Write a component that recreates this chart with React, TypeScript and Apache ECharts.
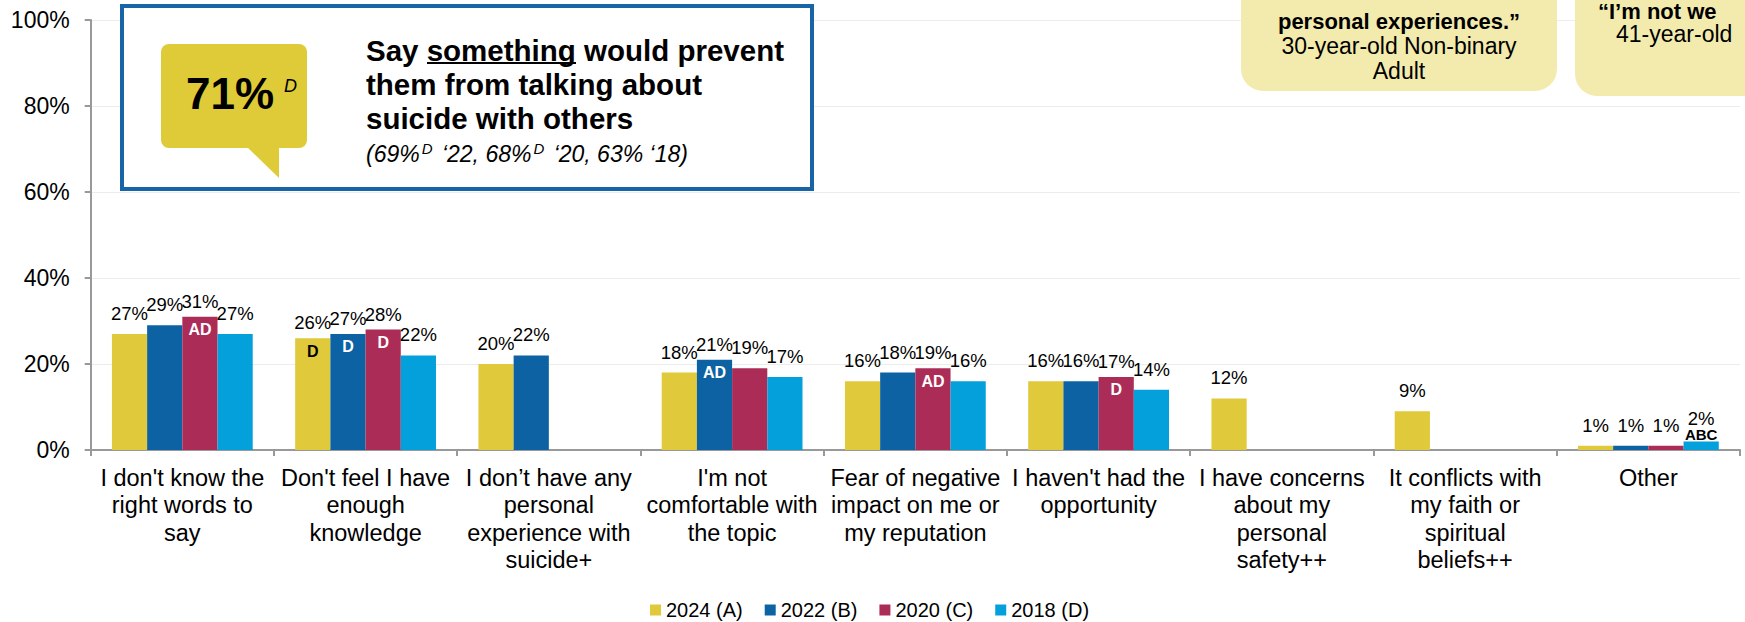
import React, { useEffect, useRef } from 'react';
import * as echarts from 'echarts';

const FONT = "'Liberation Sans', Arial, sans-serif";

const categories = [
  "I don't know the\nright words to\nsay",
  "Don't feel I have\nenough\nknowledge",
  "I don’t have any\npersonal\nexperience with\nsuicide+",
  "I'm not\ncomfortable with\nthe topic",
  "Fear of negative\nimpact on me or\nmy reputation",
  "I haven't had the\nopportunity",
  "I have concerns\nabout my\npersonal\nsafety++",
  "It conflicts with\nmy faith or\nspiritual\nbeliefs++",
  "Other",
];

const seriesNames = ['2024 (A)', '2022 (B)', '2020 (C)', '2018 (D)'];
const seriesColors = ['#e0c93a', '#0d62a3', '#ab2d57', '#04a0db'];
const sigTextKeys = ['sb', 'sw', 'sw', 'sw'];

const values2024 = [27, 26, 20, 18, 16, 16, 12, 9, 1];
const values2022 = [29, 27, 22, 21, 18, 16, null, null, 1];
const values2020 = [31, 28, null, 19, 19, 17, null, null, 1];
const values2018 = [27, 22, null, 17, 16, 14, null, null, 2];

const sig2024 = ['', 'D', '', '', '', '', '', '', ''];
const sig2022 = ['', 'D', '', 'AD', '', '', '', '', ''];
const sig2020 = ['AD', 'D', '', '', 'AD', 'D', '', '', ''];
const sig2018 = ['', '', '', '', '', '', '', '', 'ABC'];

const yTicks = [0, 20, 40, 60, 80, 100];

const quote1Lines = ['personal experiences.”', '30-year-old Non-binary', 'Adult'];
const quote2Lines = ['“I’m not we', '41-year-old'];

const allValues = [values2024, values2022, values2020, values2018];
const allSigs = [sig2024, sig2022, sig2020, sig2018];

function makeSeries(idx: number) {
  const values = allValues[idx];
  const sigs = allSigs[idx];
  const key = sigTextKeys[idx];
  return {
    name: seriesNames[idx],
    type: 'bar',
    barWidth: 35.2,
    barGap: '0%',
    itemStyle: { color: seriesColors[idx] },
    label: {
      show: true,
      position: 'top',
      distance: 11,
      fontSize: 18.5,
      fontFamily: FONT,
      color: '#000',
      formatter: (p: any) => p.value + '%',
      rich: {
        v: { fontSize: 18.5, fontFamily: FONT, color: '#000', lineHeight: 20, padding: [0, 0, 11, 0] },
        v2: { fontSize: 18.5, fontFamily: FONT, color: '#000', lineHeight: 20 },
        sw: { fontSize: 16, fontFamily: FONT, fontWeight: 'bold', color: '#fff', lineHeight: 26 },
        sb: { fontSize: 16, fontFamily: FONT, fontWeight: 'bold', color: '#000', lineHeight: 26 },
        a: { fontSize: 15, fontFamily: FONT, fontWeight: 'bold', color: '#000', lineHeight: 12 },
      },
    },
    data: values.map((v, i) => {
      if (v == null) return null;
      const s = sigs[i];
      if (!s) return v;
      if (v < 5) {
        return { value: v, label: { distance: 1, formatter: `{v2|${v}%}\n{a|${s}}` } };
      }
      return { value: v, label: { distance: -26, formatter: `{v|${v}%}\n{${key}|${s}}` } };
    }),
  };
}

export default function App() {
  const ref = useRef<HTMLDivElement>(null);
  useEffect(() => {
    document.body.style.margin = '0';
    const chart = echarts.init(ref.current!, null, { renderer: 'svg' });
    const option: any = {
      animation: false,
      backgroundColor: '#fff',
      textStyle: { fontFamily: FONT },
      grid: { left: 90.7, right: 5, top: 20, bottom: 172, containLabel: false },
      legend: {
        data: seriesNames,
        left: 650,
        top: 600,
        padding: 0,
        icon: 'rect',
        itemWidth: 11,
        itemHeight: 11,
        itemGap: 22,
        textStyle: { fontSize: 20, color: '#000', fontFamily: FONT },
      },
      xAxis: {
        type: 'category',
        data: categories,
        axisLine: { lineStyle: { color: '#999', width: 2 } },
        axisTick: { show: true, length: 6, lineStyle: { color: '#999', width: 2 } },
        axisLabel: {
          interval: 0,
          margin: 14,
          fontSize: 23.5,
          lineHeight: 27.5,
          color: '#000',
          fontFamily: FONT,
        },
      },
      yAxis: {
        type: 'value',
        min: yTicks[0],
        max: yTicks[yTicks.length - 1],
        interval: 20,
        axisLine: { show: true, lineStyle: { color: '#999', width: 2 } },
        axisTick: { show: true, length: 6, lineStyle: { color: '#999', width: 2 } },
        splitLine: { lineStyle: { color: '#ececec', width: 1 } },
        axisLabel: {
          margin: 21,
          fontSize: 23,
          color: '#000',
          fontFamily: FONT,
          formatter: '{value}%',
        },
      },
      series: [0, 1, 2, 3].map(makeSeries),
      graphic: [
        {
          type: 'rect',
          z: 100,
          shape: { x: 122, y: 6, width: 690, height: 183 },
          style: { fill: '#fff', stroke: '#1764a6', lineWidth: 4 },
        },
        {
          type: 'rect',
          z: 101,
          shape: { x: 161, y: 44, width: 146, height: 104, r: 8 },
          style: { fill: '#dfca38' },
        },
        {
          type: 'polygon',
          z: 101,
          shape: { points: [[246, 146], [279, 146], [279, 178]] },
          style: { fill: '#dfca38' },
        },
        {
          type: 'text',
          z: 102,
          x: 230,
          y: 93,
          style: {
            text: '71%',
            fontSize: 44,
            fontWeight: 'bold',
            fontFamily: FONT,
            fill: '#000',
            align: 'center',
            verticalAlign: 'middle',
          },
        },
        {
          type: 'text',
          z: 102,
          x: 284,
          y: 86,
          style: {
            text: 'D',
            fontSize: 18,
            fontStyle: 'italic',
            fontFamily: FONT,
            fill: '#000',
            align: 'left',
            verticalAlign: 'middle',
          },
        },
        {
          type: 'text',
          z: 102,
          x: 366,
          y: 33,
          style: {
            text: 'Say something would prevent\nthem from talking about\nsuicide with others',
            fontSize: 29.5,
            lineHeight: 34,
            fontWeight: 'bold',
            fontFamily: FONT,
            fill: '#000',
            align: 'left',
            verticalAlign: 'top',
          },
        },
        {
          type: 'line',
          z: 102,
          shape: { x1: 427, y1: 63, x2: 576, y2: 63 },
          style: { stroke: '#000', lineWidth: 2 },
        },
        {
          type: 'text',
          z: 102,
          x: 366,
          y: 154,
          style: {
            text: '(69%{sup|D} ‘22, 68%{sup|D} ‘20, 63% ‘18)',
            fontSize: 23,
            fontStyle: 'italic',
            fontFamily: FONT,
            fill: '#000',
            align: 'left',
            verticalAlign: 'middle',
            rich: {
              sup: {
                fontSize: 15,
                fontStyle: 'italic',
                fontFamily: FONT,
                fill: '#000',
                padding: [0, 3, 11, 2],
              },
            },
          },
        },
        {
          type: 'rect',
          z: 100,
          shape: { x: 1241, y: -30, width: 316, height: 121, r: 22 },
          style: { fill: '#f3ebae' },
        },
        {
          type: 'text',
          z: 102,
          x: 1399,
          y: 21,
          style: {
            text: quote1Lines[0],
            fontSize: 22,
            fontWeight: 'bold',
            fontFamily: FONT,
            fill: '#000',
            align: 'center',
            verticalAlign: 'middle',
          },
        },
        {
          type: 'text',
          z: 102,
          x: 1399,
          y: 46,
          style: {
            text: quote1Lines[1],
            fontSize: 23,
            fontFamily: FONT,
            fill: '#000',
            align: 'center',
            verticalAlign: 'middle',
          },
        },
        {
          type: 'text',
          z: 102,
          x: 1399,
          y: 71,
          style: {
            text: quote1Lines[2],
            fontSize: 23,
            fontFamily: FONT,
            fill: '#000',
            align: 'center',
            verticalAlign: 'middle',
          },
        },
        {
          type: 'rect',
          z: 100,
          shape: { x: 1575, y: -30, width: 330, height: 126, r: 22 },
          style: { fill: '#f3ebae' },
        },
        {
          type: 'text',
          z: 102,
          x: 1598,
          y: 11,
          style: {
            text: quote2Lines[0],
            fontSize: 22,
            fontWeight: 'bold',
            fontFamily: FONT,
            fill: '#000',
            align: 'left',
            verticalAlign: 'middle',
          },
        },
        {
          type: 'text',
          z: 102,
          x: 1616,
          y: 34,
          style: {
            text: quote2Lines[1],
            fontSize: 23,
            fontFamily: FONT,
            fill: '#000',
            align: 'left',
            verticalAlign: 'middle',
          },
        },
      ],
    };
    chart.setOption(option);
    return () => chart.dispose();
  }, []);
  return <div ref={ref} style={{ width: 1745, height: 622 }} />;
}
